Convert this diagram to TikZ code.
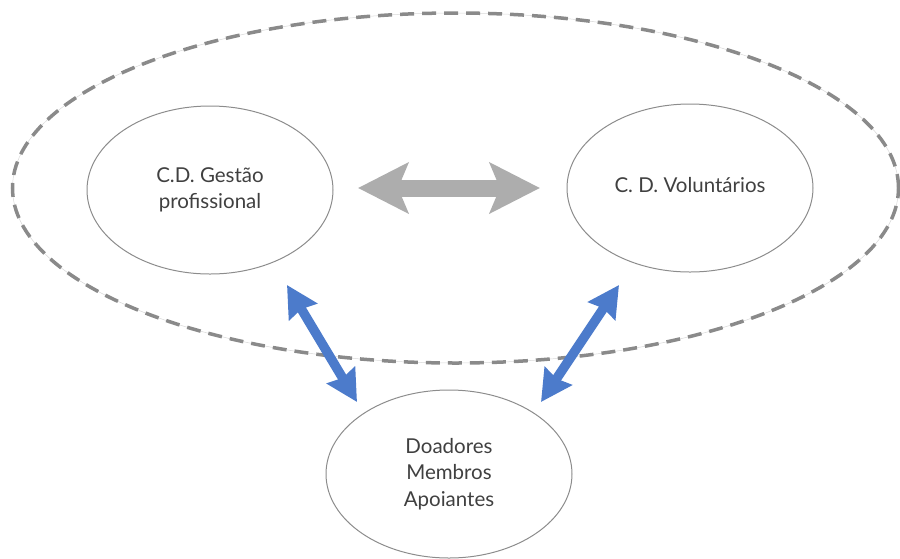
\documentclass[tikz,border=0pt]{standalone}
\usepackage{fontspec}
\setmainfont{Lato}
\usetikzlibrary{arrows.meta,shapes.geometric}
\definecolor{txt}{HTML}{404040}
\definecolor{edge}{HTML}{8C8C8C}
\definecolor{dashc}{HTML}{8A8A8A}
\definecolor{thinc}{HTML}{D8D8D8}
\definecolor{grayarrow}{HTML}{ADADAD}
\definecolor{bluearrow}{HTML}{4C7BCB}
\tikzset{
  oval/.style={ellipse, draw=edge, line width=1pt, minimum width=246pt, minimum height=168pt,
    inner sep=0pt, align=center, text=txt, font=\fontsize{20.5}{26.5}\selectfont},
  bigarrow/.style={draw=grayarrow, line width=17pt,
    {Stealth[length=50pt,width=50pt,inset=10pt,fill=grayarrow]}-{Stealth[length=50pt,width=50pt,inset=10pt,fill=grayarrow]}},
  bluelink/.style={draw=bluearrow, line width=9.5pt,
    {Stealth[length=31pt,width=32pt,inset=3pt,fill=bluearrow]}-{Stealth[length=31pt,width=32pt,inset=3pt,fill=bluearrow]}}
}
\begin{document}
\begin{tikzpicture}[x=1pt,y=-1pt]
\useasboundingbox (0,0) rectangle (900,558);
% outer dashed ellipse
\draw[thinc, line width=0.5pt] (455.5,188) ellipse [x radius=443pt, y radius=175pt];
\draw[dashc, line width=3.5pt, dash pattern=on 14pt off 8pt] (455.5,188) ellipse [x radius=443pt, y radius=175pt];
% nodes
\node[oval] (gp) at (210,190) {C.D. Gestão\\profissional};
\node[oval] (vol) at (690,188) {\raisebox{7pt}{C. D. Voluntários}};
\node[oval] (dm) at (449,474) {Doadores\\Membros\\Apoiantes};
% connectors
\coordinate (g1) at (358,188);
\coordinate (g2) at (540,188);
\draw[bigarrow] (g1) -- (g2);
\coordinate (b1) at (287,285);
\coordinate (b2) at (357,402);
\draw[bluelink] (b1) -- (b2);
\coordinate (b3) at (619,285);
\coordinate (b4) at (541,402);
\draw[bluelink] (b3) -- (b4);
\end{tikzpicture}
\end{document}
